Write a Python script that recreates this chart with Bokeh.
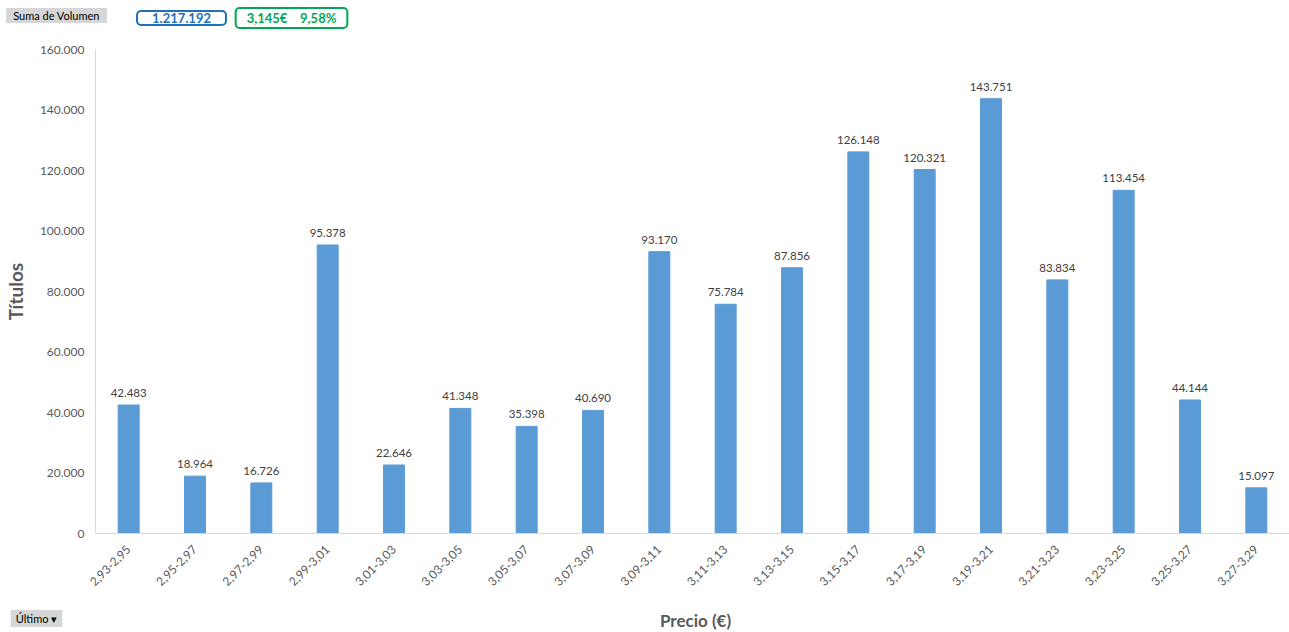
from bokeh.plotting import figure
from bokeh.models import ColumnDataSource, Label, Range1d, FixedTicker
from bokeh.core.properties import value
from bokeh.embed import file_html
from bokeh.resources import INLINE
from math import pi

categories = ["2,93-2,95", "2,95-2,97", "2,97-2,99", "2,99-3,01", "3,01-3,03", "3,03-3,05",
              "3,05-3,07", "3,07-3,09", "3,09-3,11", "3,11-3,13", "3,13-3,15", "3,15-3,17",
              "3,17-3,19", "3,19-3,21", "3,21-3,23", "3,23-3,25", "3,25-3,27", "3,27-3,29"]
volumes = [42483, 18964, 16726, 95378, 22646, 41348, 35398, 40690, 93170, 75784, 87856,
           126148, 120321, 143751, 83834, 113454, 44144, 15097]
y_ticks = [0, 20000, 40000, 60000, 80000, 100000, 120000, 140000, 160000]
y_tick_labels = ["0", "20.000", "40.000", "60.000", "80.000", "100.000", "120.000", "140.000", "160.000"]
total_label = "1.217.192"
price_label = "3,145€\u00a0\u00a0\u00a0\u00a09,58%"
x_title = "Precio (€)"
y_title = "Títulos"

def fmt(v):
    return f"{v:,}".replace(",", ".")

FONT = "Lato"
src = ColumnDataSource(dict(cat=categories, vol=volumes, lab=[fmt(v) for v in volumes]))

p = figure(width=1289, height=632, x_range=categories, y_range=Range1d(0, 160000),
           output_backend="svg", toolbar_location=None,
           min_border_left=93, min_border_right=0, min_border_top=49, min_border_bottom=99)
p.outline_line_color = None
p.grid.visible = False
p.background_fill_color = "white"

p.vbar(x="cat", top="vol", width=0.316, source=src, color="#5B9BD5")
p.text(x="cat", y="vol", text="lab", source=src, text_align="center", text_baseline="bottom",
       y_offset=-8, text_font=value(FONT), text_font_size="11.5px", text_color="#404040")

p.yaxis.ticker = FixedTicker(ticks=y_ticks)
p.yaxis.major_label_overrides = {t: l for t, l in zip(y_ticks, y_tick_labels)}
for ax in (p.xaxis, p.yaxis):
    ax.axis_line_color = "#D9D9D9"
    ax.major_tick_line_color = None
    ax.minor_tick_line_color = None
    ax.major_label_text_font = FONT
    ax.major_label_text_font_size = "12px"
    ax.major_label_text_color = "#595959"
    ax.axis_label_text_font = FONT
    ax.axis_label_text_font_style = "bold"
    ax.axis_label_text_color = "#595959"
p.yaxis.major_label_standoff = 5
p.xaxis.major_label_orientation = pi / 4
p.xaxis.major_label_standoff = 8
p.yaxis.axis_label = y_title
p.yaxis.axis_label_text_font_size = "19px"
p.yaxis.axis_label_standoff = 10

def add_label(place, x, y, text, color, bg, border, size, bold=False, padding=(6, 3), radius=0):
    lab = Label(x=x, y=y, x_units="canvas", y_units="canvas", text=text,
                text_align="center", text_baseline="middle",
                text_font=FONT, text_font_size=size, text_color=color,
                text_font_style="bold" if bold else "normal",
                background_fill_color=bg, border_line_color=border, border_line_width=2,
                padding=padding, border_radius=radius)
    p.add_layout(lab, place)

add_label("above", 56, 15, "Suma de Volumen", "#000000", "#D6D6D6", None, "11px", padding=(7, 1))
add_label("above", 181, 17.5, total_label, "#1F6FB9", "white", "#1F6FB9", "13px", bold=True, padding=(15, 2), radius=4)
add_label("above", 291, 17.5, price_label, "#00A94F", "white", "#00A94F", "13px", bold=True, padding=(11, 2), radius=4)
add_label("below", 36, 618, "Último \u25be", "#000000", "#D6D6D6", None, "11px", padding=(5, 2))
add_label("below", 695, 620, x_title, "#595959", None, None, "17px", bold=True, padding=(0, 0))

open("out.html", "w").write(file_html(p, INLINE))
